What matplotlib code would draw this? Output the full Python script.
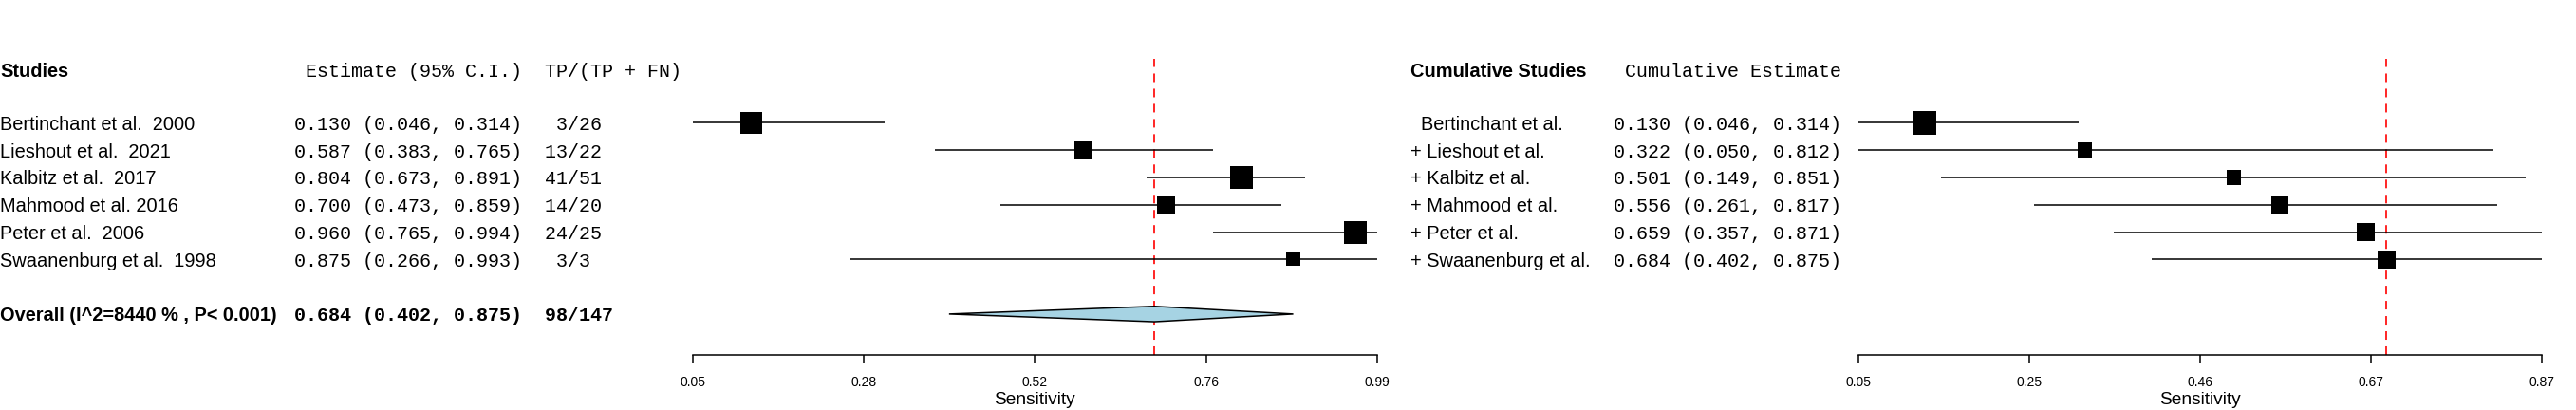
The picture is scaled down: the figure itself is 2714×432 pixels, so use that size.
import matplotlib
matplotlib.use("Agg")
import matplotlib.pyplot as plt
from matplotlib.transforms import blended_transform_factory
from matplotlib.patches import Polygon
import numpy as np

# ---------------- data ----------------
study_names = ["Bertinchant et al.  2000", "Lieshout et al.  2021", "Kalbitz et al.  2017",
               "Mahmood et al. 2016", "Peter et al.  2006", "Swaanenburg et al.  1998"]
sens_est = [0.130, 0.587, 0.804, 0.700, 0.960, 0.875]
sens_lo = [0.046, 0.383, 0.673, 0.473, 0.765, 0.266]
sens_hi = [0.314, 0.765, 0.891, 0.859, 0.994, 0.993]
tp = [3, 13, 41, 14, 24, 3]
tp_fn = [26, 22, 51, 20, 25, 3]
study_weight_px = [22.4, 19.0, 24.4, 19.0, 24.0, 14.2]

overall_label = "Overall (I^2=8440 % , P< 0.001)"
overall_est = 0.684
overall_lo = 0.402
overall_hi = 0.875
overall_tp = 98
overall_n = 147

cum_names = ["Bertinchant et al.", "Lieshout et al.", "Kalbitz et al.",
             "Mahmood et al.", "Peter et al.", "Swaanenburg et al."]
cum_est = [0.130, 0.322, 0.501, 0.556, 0.659, 0.684]
cum_lo = [0.046, 0.050, 0.149, 0.261, 0.357, 0.402]
cum_hi = [0.314, 0.812, 0.851, 0.817, 0.871, 0.875]
cum_weight_px = [24.4, 15.6, 15.5, 18.0, 18.5, 19.2]

left_xlim = (0.05, 0.99)
left_ticklabels = ["0.05", "0.28", "0.52", "0.76", "0.99"]
right_xlim = (0.05, 0.87)
right_ticklabels = ["0.05", "0.25", "0.46", "0.67", "0.87"]

# ---------------- layout ----------------
W, H, DPI = 2714, 432, 100
plt.rcParams["lines.scale_dashes"] = False
SANS = "Liberation Sans"
MONO = "Liberation Mono"
FS = 14.4

fig = plt.figure(figsize=(W / DPI, H / DPI), dpi=DPI)
fig.patch.set_facecolor("white")

ROW0, ROWH = 129.3, 28.8          # pixel y of first row, row height
AX_BOTTOM, AX_TOP = 374.0, 61.7   # pixel y (from top)
ylim = ((AX_BOTTOM - ROW0) / ROWH, (AX_TOP - ROW0) / ROWH)
hdr_row = (73.3 - ROW0) / ROWH
overall_row = 7
base_off = 0.26   # baseline offset (rows) for vertically centred text


def make_axes(x0, width, xlim, labels):
    ax = fig.add_axes([x0 / W, 1 - AX_BOTTOM / H, width / W, (AX_BOTTOM - AX_TOP) / H])
    ax.set_xlim(*xlim)
    ax.set_ylim(*ylim)
    for s in ["top", "left", "right"]:
        ax.spines[s].set_visible(False)
    ax.spines["bottom"].set_linewidth(1.1)
    ax.set_yticks([])
    ax.set_xticks(np.linspace(xlim[0], xlim[1], len(labels)))
    ax.set_xticklabels(labels, fontfamily=SANS, fontsize=10)
    ax.tick_params(axis="x", direction="out", length=6.5, width=1.1, pad=9.3)
    ax.patch.set_alpha(0)
    fig.text((x0 + width / 2) / W, 1 - 426.5 / H, "Sensitivity", ha="center",
             va="baseline", fontfamily=SANS, fontsize=13.8)
    return ax


axL = make_axes(730.0, 720.7, left_xlim, left_ticklabels)
axR = make_axes(1957.7, 720.0, right_xlim, right_ticklabels)

rows = np.arange(len(sens_est))


def draw_forest(ax, est, lo, hi, wpx):
    ax.axvline(overall_est, color="red", lw=1.2, dashes=(6.5, 5.0), zorder=1)
    ax.hlines(rows, lo, hi, color="black", lw=1.1, zorder=2)
    ax.scatter(est, rows, marker="s", s=(np.array(wpx) * 72 / DPI) ** 2,
               color="black", linewidths=0, zorder=3, clip_on=False)


draw_forest(axL, sens_est, sens_lo, sens_hi, study_weight_px)
draw_forest(axR, cum_est, cum_lo, cum_hi, cum_weight_px)

dh = 8.15 / ROWH
axL.add_patch(Polygon([(overall_lo, overall_row), (overall_est, overall_row - dh),
                       (overall_hi, overall_row), (overall_est, overall_row + dh)],
                      closed=True, facecolor="#A6D3E3", edgecolor="black", lw=1.1, zorder=3))

# ---------------- text columns ----------------
trL = blended_transform_factory(fig.transFigure, axL.transData)


def txt(xpx, row, s, family, bold=False):
    fig.text(xpx / W, row + base_off, s, transform=trL, ha="left", va="baseline",
             fontfamily=family, fontsize=FS, fontweight="bold" if bold else "normal")


# left panel
txt(0, hdr_row, "Studies", SANS, bold=True)
txt(310, hdr_row, " Estimate (95% C.I.)  TP/(TP + FN)", MONO)
for i, name in enumerate(study_names):
    txt(0, i, name, SANS)
    txt(310, i, f"{sens_est[i]:.3f} ({sens_lo[i]:.3f}, {sens_hi[i]:.3f})  {tp[i]:>2d}/{tp_fn[i]}", MONO)
txt(0, overall_row, overall_label, SANS, bold=True)
txt(310, overall_row, f"{overall_est:.3f} ({overall_lo:.3f}, {overall_hi:.3f})  {overall_tp}/{overall_n}",
    MONO, bold=True)

# right panel
txt(1486, hdr_row, "Cumulative Studies", SANS, bold=True)
txt(1700, hdr_row, " Cumulative Estimate", MONO)
for i, name in enumerate(cum_names):
    label = ("  " if i == 0 else "+ ") + name
    txt(1486, i, label, SANS)
    txt(1700, i, f"{cum_est[i]:.3f} ({cum_lo[i]:.3f}, {cum_hi[i]:.3f})", MONO)

fig.savefig("out.png", dpi=DPI, facecolor="white")
